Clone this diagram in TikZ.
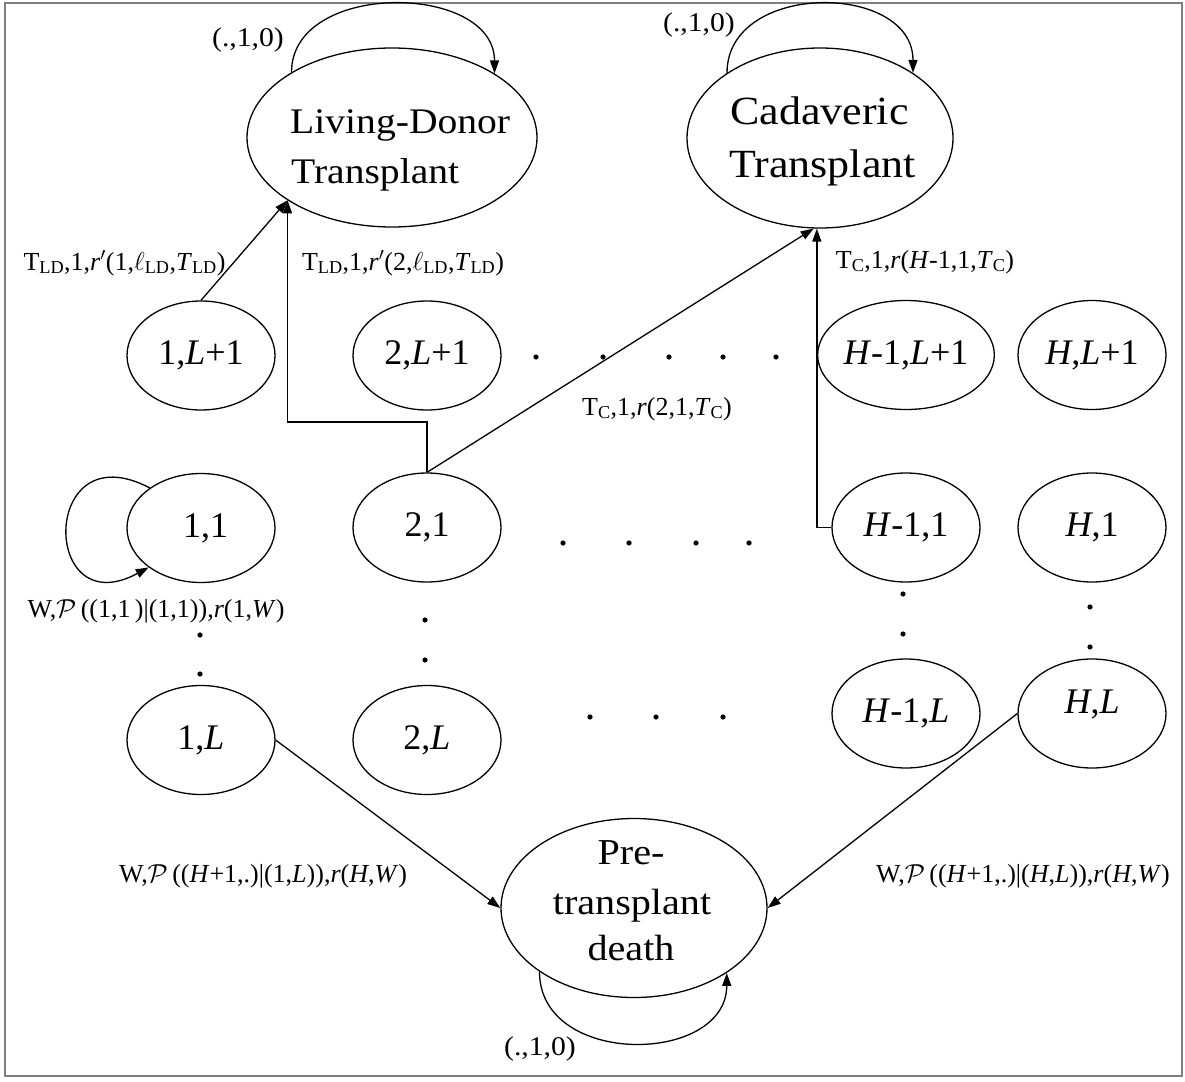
\documentclass[tikz,border=0pt]{standalone}
\usepackage{fix-cm}
\usepackage{fontspec}
\setmainfont{Liberation Serif}
\newfontfamily\widefont{Liberation Serif}[FakeStretch=1.1]
\usetikzlibrary{shapes.geometric,arrows.meta}

\begin{document}
\begin{tikzpicture}[x=1pt,y=-1pt,
  ell/.style={draw,ellipse,line width=1.3pt,inner sep=0pt},
  state/.style={ell,minimum width=148pt,minimum height=109pt,
    font=\fontsize{36}{40}\selectfont},
  bigtxt/.style={inner sep=0pt,anchor=base west},
  ltd/.style={bigtxt,font=\widefont\fontsize{36}{40}\selectfont},
  ctd/.style={bigtxt,font=\widefont\fontsize{40}{44}\selectfont},
  ptd/.style={inner sep=0pt,anchor=base,font=\widefont\fontsize{36.5}{40}\selectfont},
  lbl/.style={inner sep=0pt,anchor=base,font=\fontsize{26}{30}\selectfont},
  loopl/.style={inner sep=0pt,anchor=base,font=\widefont\fontsize{27}{30}\selectfont},
  arr/.style={line width=1.3pt,-{Triangle[length=13pt,width=9pt]}},
  dotm/.style={fill=black}]

\useasboundingbox (0,0) rectangle (1185,1081);
\draw[black!50,line width=1.2pt] (5,3) rectangle (1182,1076);

% absorbing states
\node[ell,minimum width=290pt,minimum height=179pt] (LD) at (392,137.5) {};
\node[ell,minimum width=266pt,minimum height=180pt] (CT) at (820,138) {};
\node[ell,minimum width=266pt,minimum height=179pt] (PTD) at (634,908) {};

\node[ltd] (LDa) at (290,133) {Living-Donor};
\node[ltd] (LDb) at (291,183) {Transplant};
\node[ctd] (CTa) at (730,124) {Cadaveric};
\node[ctd] (CTb) at (729,177) {Transplant};
\node[ptd] (PTDa) at (631,864) {Pre-};
\node[ptd] (PTDb) at (632,914) {transplant};
\node[ptd] (PTDc) at (631,960) {death};

% waiting-list states
\node[state] (n1L1)  at (201,355.5)  {1,\textit{L}+1};
\node[state] (n2L1)  at (427,355.5)  {2,\textit{L}+1};
\node[state] (nH1L1) at (906,355)    {\textit{H}-1,\textit{L}+1};
\node[state] (nHL1)  at (1092,355)   {\textit{H},\textit{L}+1};

\node[state] (n11)   at (201,528)    {\hspace*{9pt}1,1};
\node[state] (n21)   at (427,527.5)  {2,1};
\node[state] (nH11)  at (906,527.5)  {\textit{H}-1,1};
\node[state] (nH1)   at (1092,527.5) {\textit{H},1};

\node[state] (n1L)   at (201,740)    {1,\textit{L}};
\node[state] (n2L)   at (427,740)    {2,\textit{L}};
\node[state] (nH1L)  at (906,713.5)  {\textit{H}-1,\textit{L}};
\node[state] (nHL)   at (1092,713.5) {};
\node[inner sep=0pt,anchor=base,font=\fontsize{36}{40}\selectfont] (nHLt) at (1092,713) {\textit{H},\textit{L}};

% ellipsis dots
\foreach \x in {536,603,669,723,776} \fill[dotm] (\x,357) circle[radius=2.6pt];
\foreach \x in {563,629,696,749} \fill[dotm] (\x,543) circle[radius=2.6pt];
\foreach \x in {590,656,723} \fill[dotm] (\x,717) circle[radius=2.6pt];
\foreach \p in {(200,635),(200,674),(425,620),(425,660),(903,594),(903,634),(1090,607),(1090,647)}
  \fill[dotm] \p circle[radius=2.6pt];

% transitions
\draw[arr] (n1L1.north) -- (LD.211);
\draw[arr] (n21.north) |- (LD.211 |- 0,422) -- (LD.211);
\draw[arr] (n21.north) -- (CT.266);
\draw[arr] (nH11.west) -| (CT.268);
\draw[arr] (n1L.east) -- (PTD.west);
\draw[arr] (nHL.west) -- (PTD.east);

% self loops
\draw[arr] (LD.147) .. controls +(0,-92) and +(0,-91) .. (LD.32);
\draw[arr] (CT.145) .. controls +(0,-92) and +(0,-91) .. (CT.35);
\draw[arr] (PTD.214) .. controls +(0,96) and +(0,92) .. (PTD.325);
\draw[arr] (n11.142) .. controls (40,430) and (40,626) .. (n11.217);

% labels
\node[loopl] (lLD)  at (248,47)   {(.,1,0)};
\node[loopl] (lCT)  at (699,32)   {(.,1,0)};
\node[loopl] (lPTD) at (540,1055) {(.,1,0)};

\node[lbl] (tLD1) at (124.5,270) {T\textsubscript{LD},1,\textit{r}$'$(1,$\ell$\textsubscript{LD},\textit{T}\textsubscript{LD})};
\node[lbl] (tLD2) at (403,270) {T\textsubscript{LD},1,\textit{r}$'$(2,$\ell$\textsubscript{LD},\textit{T}\textsubscript{LD})};
\node[lbl] (tC1) at (925,268) {T\textsubscript{C},1,\textit{r}(\textit{H}-1,1,\textit{T}\textsubscript{C})};
\node[lbl] (tC2) at (657,415) {T\textsubscript{C},1,\textit{r}(2,1,\textit{T}\textsubscript{C})};
\node[lbl] (w11) at (156,617) {W,$\mathcal{P}$\,((1,1\,)|(1,1)),\textit{r}(1,\textit{W})};
\node[lbl] (w1L) at (263,882) {W,$\mathcal{P}$\,((\textit{H}+1,.)|(1,\textit{L})),\textit{r}(\textit{H},\textit{W})};
\node[lbl] (wHL) at (1023,882) {W,$\mathcal{P}$\,((\textit{H}+1,.)|(\textit{H},\textit{L})),\textit{r}(\textit{H},\textit{W})};
\end{tikzpicture}
\end{document}
